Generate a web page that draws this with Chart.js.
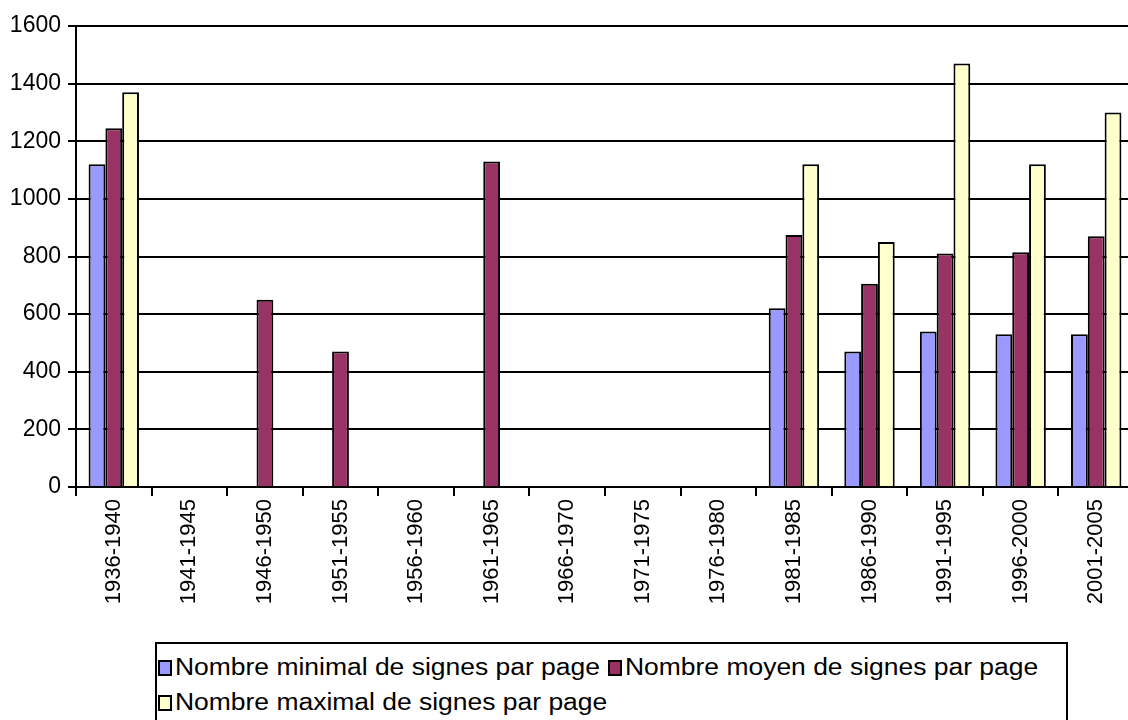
<!DOCTYPE html>
<html>
<head>
<meta charset="utf-8">
<script src="https://cdn.jsdelivr.net/npm/chart.js@4.4.1/dist/chart.umd.min.js"></script>
<style>
  html, body { margin: 0; padding: 0; background: #fff; overflow: hidden; }
  body { width: 1128px; height: 720px; position: relative; font-family: "Liberation Sans", Arial, sans-serif; }
  .wrap { position: absolute; left: 0; top: 0; width: 1134px; height: 620px; }
  .legend {
    position: absolute; left: 155px; top: 642px; width: 913px; height: 80px;
    border: 2px solid #000; box-sizing: border-box; padding: 6px 0 0 1px;
    display: flex; flex-wrap: wrap; align-content: flex-start;
  }
  .legend .item { display: flex; align-items: center; height: 35px; margin-right: 9px; }
  .legend .sw { width: 10px; height: 12px; border: 2px solid #000; margin-right: 3px; }
  .legend .txt { font-size: 23px; color: #000; display: inline-block;
                 transform: scaleX(1.15); transform-origin: left center; white-space: nowrap; }
</style>
</head>
<body>
<div class="wrap"><canvas id="c"></canvas></div>
<div class="legend" id="lg"></div>
<script>
// périodes (axe des x)
const periods = ["1936-1940", "1941-1945", "1946-1950", "1951-1955", "1956-1960",
  "1961-1965", "1966-1970", "1971-1975", "1976-1980", "1981-1985",
  "1986-1990", "1991-1995", "1996-2000", "2001-2005"];

// nombre de signes par page
const minSignes = [1120, null, null, null, null, null, null, null, null, 620, 470, 540, 530, 530];
const moySignes = [1245, null, 650, 470, null, 1130, null, null, null, 875, 705, 810, 815, 870];
const maxSignes = [1370, null, null, null, null, null, null, null, null, 1120, 850, 1470, 1120, 1300];

const yMin = 0, yMax = 1600, yStep = 200;

const seriesNames = ["Nombre minimal de signes par page",
  "Nombre moyen de signes par page",
  "Nombre maximal de signes par page"];
const seriesColors = ["#9999FF", "#993366", "#FFFFCC"];

const FONT = "'Liberation Sans', Arial, sans-serif";

const chart = new Chart(document.getElementById("c"), {
  type: "bar",
  data: {
    labels: periods,
    datasets: [minSignes, moySignes, maxSignes].map((d, i) => ({
      label: seriesNames[i],
      data: d,
      backgroundColor: seriesColors[i],
      borderColor: "#000",
      borderWidth: 2,
      categoryPercentage: 0.667,
      barPercentage: 1,
    })),
  },
  options: {
    responsive: true, maintainAspectRatio: false, animation: false,
    layout: { padding: { top: 26, right: 0, bottom: 0, left: 0 } },
    plugins: { legend: { display: false }, tooltip: { enabled: false } },
    scales: {
      x: {
        grid: { offset: true, drawOnChartArea: false, color: "#000", lineWidth: 2, tickLength: 9, tickWidth: 2 },
        border: { color: "#000", width: 2 },
        ticks: { color: "#000", font: { family: FONT, size: 22 }, maxRotation: 90, minRotation: 90, padding: 3, autoSkip: false },
        afterFit: (s) => { s.height = 133; },
      },
      y: {
        min: yMin, max: yMax,
        grid: { color: "#000", lineWidth: 2, tickLength: 8, tickWidth: 2 },
        border: { color: "#000", width: 2 },
        ticks: { stepSize: yStep, color: "#000", font: { family: FONT, size: 23 }, padding: 7,
                 callback: (v) => String(v) },
        afterFit: (s) => { s.width = 76; },
      },
    },
  },
});

// légende encadrée
const lg = document.getElementById("lg");
chart.data.datasets.forEach((ds) => {
  const it = document.createElement("div");
  it.className = "item";
  it.innerHTML = `<span class="sw" style="background:${ds.backgroundColor}"></span><span class="txt">${ds.label}</span>`;
  lg.appendChild(it);
});
lg.querySelectorAll(".txt").forEach((t) => {
  t.style.marginRight = Math.round(t.offsetWidth * 0.15) + "px";
});
</script>
</body>
</html>
